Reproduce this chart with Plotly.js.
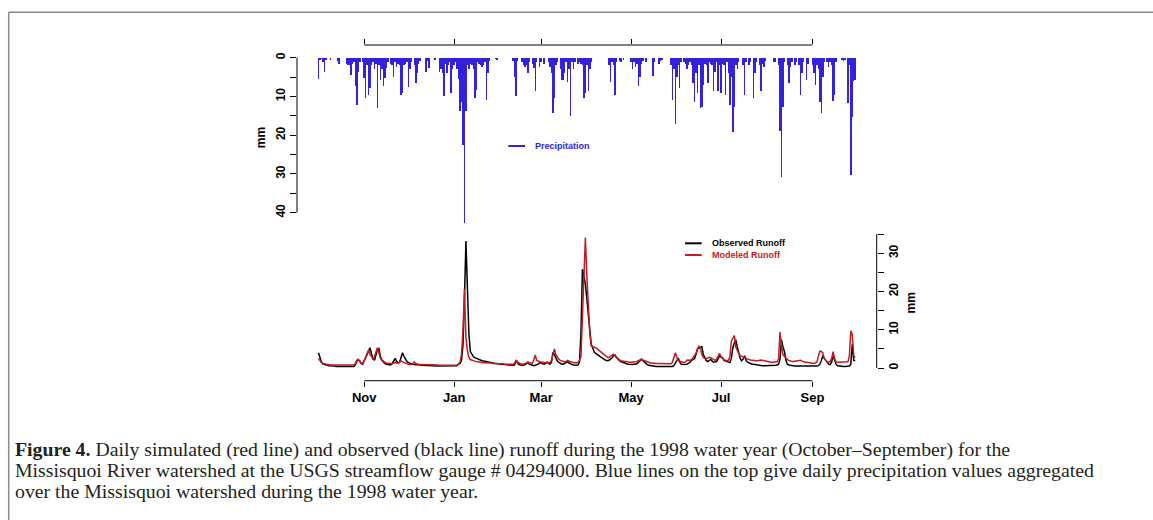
<!DOCTYPE html>
<html>
<head>
<meta charset="utf-8">
<script src="https://cdn.plot.ly/plotly-3.0.1.min.js"></script>
<style>
  html, body { margin: 0; padding: 0; background: #ffffff; }
  #chart { width: 1153px; height: 520px; }
</style>
</head>
<body>
<div id="chart"></div>
<script>
// ---------------- DATA ----------------
const startDate = '1997-10-01';   // first day of the 1998 water year
const monthTickDates  = ['1997-11-01', '1998-01-01', '1998-03-01', '1998-05-01', '1998-07-01', '1998-09-01'];
const monthTickLabels = ['Nov', 'Jan', 'Mar', 'May', 'Jul', 'Sep'];

const precipTickVals = [0, 5, 10, 15, 20, 25, 30, 35, 40];
const precipTickText = ['0', '', '10', '', '20', '', '30', '', '40'];
const runoffTickVals = [0, 5, 10, 15, 20, 25, 30, 35];
const runoffTickText = ['0', '', '10', '', '20', '', '30', ''];

// Daily precipitation (mm), Oct 1 1997 - Sep 30 1998
const precipitation = [
  5.5, 0.5, 0.3, 1.0, 3.8, 0.5, 0.2, 0.2, 0.6, 0.2,
  0.2, 0.2, 0.2, 0.8, 1.5, 0.2, 0.2, 0.2, 0.2, 1.5,
  2.0, 2.0, 4.5, 1.5, 1.0, 7.3, 12.3, 3.6, 1.0, 0.2,
  1.0, 5.3, 10.4, 2.0, 9.6, 7.8, 2.0, 1.0, 3.0, 1.5,
  13.0, 2.0, 5.7, 3.0, 7.3, 5.3, 2.7, 1.0, 0.2, 1.5,
  2.0, 4.9, 1.0, 2.3, 1.5, 2.0, 9.6, 9.0, 2.0, 1.5,
  1.0, 7.6, 3.0, 1.0, 0.2, 2.0, 6.6, 4.0, 1.5, 0.8,
  0.2, 0.2, 0.2, 3.6, 0.8, 2.7, 0.2, 0.2, 0.2, 0.6,
  0.2, 0.2, 3.8, 3.0, 4.0, 9.8, 1.5, 4.0, 2.0, 1.0,
  9.0, 3.0, 2.0, 1.0, 3.0, 5.6, 13.8, 11.3, 22.4, 42.7,
  13.8, 2.0, 3.0, 1.5, 1.9, 3.0, 10.3, 8.3, 1.0, 1.5,
  2.0, 2.5, 2.0, 1.0, 11.0, 4.0, 0.8, 0.2, 0.2, 0.2,
  0.4, 0.6, 0.2, 0.2, 0.2, 0.2, 0.2, 0.2, 0.2, 0.2,
  0.2, 0.2, 0.8, 4.9, 10.0, 0.8, 0.2, 0.2, 1.0, 2.0,
  2.5, 2.0, 4.0, 1.0, 0.2, 1.5, 2.7, 8.7, 1.0, 0.2,
  2.3, 1.0, 0.2, 1.5, 0.2, 0.2, 1.0, 2.5, 4.0, 14.3,
  10.4, 2.0, 1.0, 0.2, 3.0, 5.7, 5.7, 4.0, 1.0, 6.2,
  3.0, 15.1, 1.0, 3.0, 1.0, 0.2, 1.5, 1.2, 1.5, 2.0,
  10.4, 9.1, 2.0, 8.7, 3.0, 1.0, 0.2, 0.2, 0.2, 0.2,
  0.2, 0.2, 0.2, 0.2, 0.2, 0.2, 0.2, 2.0, 6.2, 1.0,
  2.0, 9.7, 1.0, 0.2, 0.8, 1.0, 0.2, 0.6, 0.2, 0.2,
  0.2, 0.2, 1.0, 3.0, 1.0, 2.3, 1.5, 7.4, 4.9, 1.5,
  0.8, 0.2, 1.0, 0.2, 0.2, 0.2, 0.2, 4.7, 1.0, 0.2,
  0.2, 1.5, 0.8, 0.6, 0.2, 0.2, 0.2, 0.2, 0.2, 2.0,
  10.9, 3.0, 17.1, 4.9, 2.0, 7.9, 1.0, 0.2, 1.0, 1.5,
  3.0, 1.9, 1.0, 2.0, 6.6, 11.5, 4.0, 9.1, 2.0, 13.0,
  12.6, 7.0, 1.5, 2.0, 6.6, 1.0, 1.5, 2.0, 8.7, 3.6,
  1.0, 8.7, 2.0, 9.1, 1.5, 2.0, 9.6, 1.0, 4.0, 12.1,
  5.0, 19.2, 12.6, 2.0, 3.0, 1.0, 0.2, 0.2, 2.0, 9.6,
  1.0, 0.2, 1.9, 1.0, 0.2, 10.4, 4.0, 1.0, 0.2, 2.0,
  8.5, 1.5, 2.3, 0.8, 0.2, 0.2, 0.2, 0.2, 0.2, 1.0,
  1.0, 0.2, 2.0, 18.8, 30.9, 12.6, 1.0, 0.2, 2.0, 6.6,
  2.3, 1.0, 0.2, 1.9, 1.0, 0.2, 2.0, 9.6, 4.0, 1.0,
  0.2, 5.7, 1.5, 0.2, 0.2, 2.0, 4.0, 7.0, 2.0, 3.0,
  11.3, 14.3, 4.9, 1.0, 0.2, 1.0, 2.3, 1.0, 2.0, 11.1,
  9.6, 1.0, 0.2, 0.2, 0.2, 0.5, 0.8, 0.5, 0.2, 11.8,
  2.0, 30.3, 15.2, 6.0, 5.8
];

// Daily observed runoff (mm)
const observedRunoff = [
  4.0, 2.6, 1.6, 1.1, 0.9, 0.8, 0.7, 0.6, 0.6, 0.5,
  0.5, 0.5, 0.4, 0.4, 0.4, 0.4, 0.4, 0.4, 0.3, 0.3,
  0.3, 0.3, 0.3, 0.3, 0.4, 0.8, 1.8, 2.1, 1.8, 1.2,
  1.0, 2.0, 2.6, 3.8, 4.5, 5.3, 3.6, 2.5, 2.0, 3.5,
  4.8, 5.1, 3.0, 2.0, 1.5, 1.2, 1.0, 0.9, 0.8, 0.8,
  1.2, 1.8, 2.5, 1.8, 1.3, 1.5, 3.0, 4.0, 3.0, 2.3,
  1.7, 1.4, 1.2, 1.1, 1.0, 0.9, 0.9, 0.8, 0.8, 0.8,
  0.7, 0.7, 0.7, 0.7, 0.6, 0.6, 0.6, 0.6, 0.6, 0.5,
  0.5, 0.5, 0.5, 0.5, 0.5, 0.5, 0.5, 0.5, 0.5, 0.5,
  0.5, 0.5, 0.5, 0.5, 0.6, 1.0, 1.2, 2.0, 6.0, 18.0,
  33.2, 21.0, 9.0, 4.3, 3.5, 3.0, 2.7, 2.5, 2.3, 2.2,
  2.0, 1.9, 1.8, 1.7, 1.6, 1.5, 1.5, 1.4, 1.3, 1.3,
  1.2, 1.2, 1.1, 1.1, 1.0, 1.0, 0.9, 0.9, 0.8, 0.8,
  0.8, 0.7, 0.7, 0.8, 2.0, 1.3, 0.9, 0.8, 0.7, 0.7,
  0.8, 1.0, 1.4, 1.0, 0.8, 0.7, 0.6, 0.7, 0.8, 1.0,
  1.4, 1.2, 1.0, 1.0, 1.2, 1.5, 1.2, 1.0, 1.5, 4.1,
  3.5, 2.4, 1.8, 1.5, 1.2, 1.0, 1.0, 1.2, 1.5, 1.7,
  1.3, 1.0, 0.9, 0.8, 0.7, 0.7, 0.8, 1.5, 9.0, 25.8,
  24.0, 22.0, 18.0, 14.7, 10.0, 6.2, 5.0, 4.2, 3.8, 3.5,
  3.3, 3.1, 2.8, 2.5, 2.2, 2.0, 1.9, 2.0, 2.3, 2.6,
  3.2, 3.4, 2.8, 2.3, 2.0, 1.7, 1.5, 1.3, 1.2, 1.1,
  1.0, 0.9, 0.9, 0.9, 1.0, 1.0, 1.1, 1.5, 2.0, 2.3,
  1.9, 1.5, 1.2, 0.9, 0.7, 0.6, 0.5, 0.5, 0.4, 0.4,
  0.4, 0.4, 0.3, 0.3, 0.3, 0.3, 0.3, 0.3, 0.3, 0.3,
  0.4, 0.6, 1.5, 1.9, 2.6, 1.5, 1.0, 0.9, 0.8, 0.9,
  1.0, 1.2, 1.5, 2.0, 2.3, 2.4, 3.5, 4.9, 5.2, 5.4,
  5.6, 3.5, 2.5, 1.9, 1.7, 2.0, 2.3, 1.8, 1.5, 1.6,
  1.7, 2.4, 3.2, 2.8, 2.7, 2.0, 1.9, 1.8, 1.5, 1.4,
  2.5, 5.3, 6.5, 7.4, 5.5, 4.0, 2.5, 1.9, 2.3, 3.2,
  2.0, 1.5, 1.3, 1.2, 1.0, 1.0, 0.9, 0.8, 0.7, 0.6,
  0.6, 0.6, 0.6, 0.6, 0.6, 0.6, 0.6, 0.6, 0.6, 0.6,
  0.7, 0.8, 1.0, 2.3, 7.4, 5.5, 4.4, 2.0, 1.0, 0.8,
  0.7, 0.6, 0.5, 0.5, 0.5, 0.5, 0.5, 0.5, 0.4, 0.4,
  0.4, 0.4, 0.4, 0.4, 0.4, 0.4, 0.4, 0.4, 0.5, 0.6,
  1.0, 1.9, 3.2, 2.5, 1.9, 1.3, 1.0, 0.9, 1.5, 3.2,
  2.0, 1.0, 0.6, 0.5, 0.4, 0.4, 0.4, 0.4, 0.4, 0.4,
  0.5, 1.0, 6.2, 2.0, 1.9
];

// Daily modeled runoff (mm)
const modeledRunoff = [
  2.5, 1.8, 1.4, 1.2, 1.1, 1.0, 0.9, 0.9, 0.8, 0.8,
  0.8, 0.8, 0.7, 0.7, 0.7, 0.7, 0.7, 0.7, 0.7, 0.7,
  0.7, 0.7, 0.7, 0.7, 0.8, 1.2, 2.0, 2.3, 1.8, 1.3,
  1.2, 1.8, 2.8, 3.4, 4.7, 3.5, 3.0, 2.2, 3.0, 4.3,
  5.3, 4.0, 2.5, 2.1, 1.7, 1.5, 1.3, 1.2, 1.1, 1.1,
  1.1, 1.2, 1.5, 1.3, 1.2, 1.5, 1.8, 1.6, 1.4, 1.2,
  1.1, 1.0, 0.9, 0.9, 1.2, 1.6, 1.2, 1.0, 0.9, 0.9,
  0.9, 0.9, 0.8, 0.8, 0.8, 0.8, 0.8, 0.8, 0.8, 0.8,
  0.8, 0.8, 0.7, 0.7, 0.7, 0.7, 0.7, 0.7, 0.7, 0.7,
  0.7, 0.7, 0.7, 0.8, 0.8, 1.0, 1.5, 3.5, 10.0, 20.7,
  8.0, 4.5, 2.8, 2.2, 2.0, 1.9, 1.8, 1.7, 1.6, 1.6,
  1.5, 1.5, 1.4, 1.4, 1.4, 1.3, 1.3, 1.3, 1.2, 1.2,
  1.2, 1.2, 1.1, 1.1, 1.1, 1.1, 1.0, 1.0, 1.0, 1.0,
  1.0, 1.0, 1.0, 1.2, 2.1, 1.5, 1.2, 1.1, 1.0, 1.0,
  1.1, 1.3, 1.6, 1.4, 1.2, 1.2, 2.0, 3.4, 2.0, 1.8,
  1.6, 1.5, 1.5, 1.4, 1.4, 1.5, 1.5, 1.4, 2.0, 4.0,
  5.0, 3.5, 2.8, 2.3, 2.0, 1.8, 1.7, 1.6, 1.7, 2.0,
  1.8, 1.6, 1.5, 1.4, 1.4, 1.3, 1.5, 2.0, 3.0, 12.0,
  24.0, 34.1, 24.0, 15.6, 9.0, 5.7, 5.6, 5.5, 5.3, 5.0,
  4.7, 4.3, 3.9, 3.6, 3.3, 3.0, 2.8, 2.7, 3.0, 3.4,
  3.6, 3.3, 2.8, 2.4, 2.1, 1.9, 1.8, 1.7, 1.6, 1.6,
  1.5, 1.5, 1.5, 1.5, 1.5, 1.6, 1.7, 1.9, 2.2, 2.3,
  2.1, 1.9, 1.7, 1.5, 1.4, 1.3, 1.3, 1.2, 1.2, 1.2,
  1.2, 1.2, 1.1, 1.1, 1.1, 1.1, 1.1, 1.1, 1.1, 1.1,
  1.5, 2.5, 4.0, 2.8, 2.0, 1.8, 1.6, 1.5, 1.5, 1.6,
  2.1, 2.0, 2.0, 2.2, 2.7, 3.0, 3.8, 5.0, 5.7, 5.2,
  3.5, 2.7, 2.5, 2.5, 2.6, 2.8, 2.7, 2.5, 2.2, 2.0,
  2.3, 3.0, 3.8, 3.0, 2.5, 2.2, 2.0, 1.9, 2.0, 3.0,
  7.0, 8.0, 8.5, 5.5, 4.4, 3.8, 3.2, 3.0, 2.9, 2.7,
  2.5, 2.3, 2.2, 2.1, 2.0, 2.0, 2.0, 1.9, 1.9, 2.0,
  2.1, 2.0, 1.9, 1.8, 1.7, 1.6, 1.5, 1.5, 1.5, 1.5,
  1.5, 1.6, 2.5, 9.4, 6.0, 3.5, 3.0, 2.5, 2.2, 2.0,
  1.8, 1.7, 1.7, 1.8, 1.8, 1.9, 2.1, 2.0, 1.8, 1.6,
  1.5, 1.5, 1.4, 1.4, 1.3, 1.2, 1.2, 1.3, 1.6, 3.0,
  4.4, 4.3, 4.0, 2.5, 1.9, 1.6, 1.5, 1.7, 2.5, 4.3,
  2.5, 1.6, 1.5, 1.5, 1.5, 1.5, 1.5, 1.5, 1.5, 1.6,
  3.0, 9.7, 8.7, 3.2, 2.7
];

// ---------------- HELPERS ----------------
const W = 1153, H = 520;
const DAY = 86400000;
const t0 = Date.parse(startDate + 'T00:00:00Z');
function dateStr(ms) { return new Date(ms).toISOString().replace('T', ' ').replace('Z', ''); }
const dates = precipitation.map((_, i) => dateStr(t0 + i * DAY).slice(0, 10));
const px = p => p / W;            // pixel -> paper x
const py = p => 1 - p / H;        // pixel -> paper y

// R-style 4% extension of the date range
const nDays = precipitation.length - 1;
const ext = nDays * 0.04;
const xRange = [dateStr(t0 - ext * DAY), dateStr(t0 + (nDays + ext) * DAY)];

const BLUE = '#3322dd';
const RED = '#c41a20';
const sans = 'Liberation Sans, Arial, Helvetica, sans-serif';
const serif = 'Liberation Serif, Times New Roman, serif';
const captionSize = 19.8;

const plotLeft = 297, plotRight = 876.7;

// ---------------- TRACES ----------------
const traces = [
  {
    type: 'bar', x: dates, y: precipitation, xaxis: 'x', yaxis: 'y',
    width: 1.0 * DAY, marker: { color: BLUE, line: { width: 0 } },
    name: 'Precipitation', showlegend: false, hoverinfo: 'x+y'
  },
  {
    type: 'scatter', mode: 'lines', x: dates, y: observedRunoff, xaxis: 'x2', yaxis: 'y2',
    line: { color: '#000000', width: 1.5 }, name: 'Observed Runoff', showlegend: false
  },
  {
    type: 'scatter', mode: 'lines', x: dates, y: modeledRunoff, xaxis: 'x2', yaxis: 'y2',
    line: { color: RED, width: 1.5 }, name: 'Modeled Runoff', showlegend: false
  }
];

const tickFont = { family: sans, size: 12, color: '#000', weight: 'bold' };

const layout = {
  width: W, height: H,
  margin: { l: 0, r: 0, t: 0, b: 0 },
  paper_bgcolor: '#ffffff', plot_bgcolor: 'rgba(0,0,0,0)',
  showlegend: false,
  bargap: 0,
  xaxis: {
    type: 'date', domain: [px(plotLeft), px(plotRight)], range: xRange, anchor: 'y', side: 'top',
    tickmode: 'array', tickvals: monthTickDates, ticktext: monthTickDates.map(() => ''),
    ticks: 'outside', ticklen: 5, tickwidth: 1, tickcolor: '#000',
    showgrid: false, zeroline: false, showline: false, fixedrange: true
  },
  yaxis: {
    domain: [py(230), py(45)], range: [44.46, -3.28], anchor: 'x',
    tickmode: 'array', tickvals: precipTickVals, ticktext: precipTickText,
    ticks: 'outside', ticklen: 6, tickwidth: 1, tickcolor: '#000', tickangle: -90,
    tickfont: tickFont, showgrid: false, zeroline: false, showline: false,
    title: { text: 'mm', font: { family: sans, size: 12, color: '#000', weight: 'bold' }, standoff: 6 },
    fixedrange: true
  },
  xaxis2: {
    type: 'date', domain: [px(plotLeft), px(plotRight)], range: xRange, anchor: 'y2', side: 'bottom',
    tickmode: 'array', tickvals: monthTickDates, ticktext: monthTickLabels,
    ticks: 'outside', ticklen: 5, tickwidth: 1, tickcolor: '#000',
    tickfont: { family: sans, size: 13, color: '#000', weight: 'bold' },
    showgrid: false, zeroline: false, showline: false, fixedrange: true
  },
  yaxis2: {
    domain: [py(380.7), py(225)], range: [-3.32, 37.37], anchor: 'x2', side: 'right',
    tickmode: 'array', tickvals: runoffTickVals, ticktext: runoffTickText,
    ticks: 'outside', ticklen: 6, tickwidth: 1, tickcolor: '#000', tickangle: -90,
    tickfont: tickFont, showgrid: false, zeroline: false, showline: false,
    title: { text: 'mm', font: { family: sans, size: 12, color: '#000', weight: 'bold' }, standoff: 6 },
    fixedrange: true
  },
  shapes: [
    // R-style axis lines spanning first to last tick
    { type: 'line', xref: 'x', yref: 'paper', x0: monthTickDates[0], x1: monthTickDates[monthTickDates.length - 1],
      y0: py(45), y1: py(45), line: { color: '#000', width: 1 } },
    { type: 'line', xref: 'x2', yref: 'paper', x0: monthTickDates[0], x1: monthTickDates[monthTickDates.length - 1],
      y0: py(380.7), y1: py(380.7), line: { color: '#000', width: 1 } },
    { type: 'line', xref: 'paper', yref: 'y', x0: px(plotLeft), x1: px(plotLeft),
      y0: precipTickVals[0], y1: precipTickVals[precipTickVals.length - 1], line: { color: '#000', width: 1 } },
    { type: 'line', xref: 'paper', yref: 'y2', x0: px(plotRight), x1: px(plotRight),
      y0: runoffTickVals[0], y1: runoffTickVals[runoffTickVals.length - 1], line: { color: '#000', width: 1 } },
    // legend samples
    { type: 'line', xref: 'paper', yref: 'paper', x0: px(508.3), x1: px(525), y0: py(146), y1: py(146),
      line: { color: BLUE, width: 2 } },
    { type: 'line', xref: 'paper', yref: 'paper', x0: px(685), x1: px(701.7), y0: py(243.3), y1: py(243.3),
      line: { color: '#000', width: 2 } },
    { type: 'line', xref: 'paper', yref: 'paper', x0: px(685), x1: px(701.7), y0: py(255), y1: py(255),
      line: { color: RED, width: 2 } },
    // page frame (top and left)
    { type: 'line', xref: 'paper', yref: 'paper', x0: px(8.7), x1: 1, y0: py(12.3), y1: py(12.3),
      line: { color: '#8a8a8a', width: 1.5 } },
    { type: 'line', xref: 'paper', yref: 'paper', x0: px(8.7), x1: px(8.7), y0: 0, y1: py(12.3),
      line: { color: '#8a8a8a', width: 1.5 } }
  ],
  annotations: [
    { xref: 'paper', yref: 'paper', x: px(533.3), y: py(146), xanchor: 'left', yanchor: 'middle',
      text: 'Precipitation', showarrow: false, font: { family: sans, size: 9, color: BLUE, weight: 'bold' } },
    { xref: 'paper', yref: 'paper', x: px(710), y: py(243.3), xanchor: 'left', yanchor: 'middle',
      text: 'Observed Runoff', showarrow: false, font: { family: sans, size: 9, color: '#000', weight: 'bold' } },
    { xref: 'paper', yref: 'paper', x: px(710), y: py(255), xanchor: 'left', yanchor: 'middle',
      text: 'Modeled Runoff', showarrow: false, font: { family: sans, size: 9, color: RED, weight: 'bold' } },
    { xref: 'paper', yref: 'paper', x: px(13), y: py(449), xanchor: 'left', yanchor: 'middle', align: 'left',
      text: '<b>Figure 4.</b> Daily simulated (red line) and observed (black line) runoff during the 1998 water year (October–September) for the',
      showarrow: false, font: { family: serif, size: captionSize, color: '#231f20' } },
    { xref: 'paper', yref: 'paper', x: px(13), y: py(470), xanchor: 'left', yanchor: 'middle', align: 'left',
      text: 'Missisquoi River watershed at the USGS streamflow gauge # 04294000. Blue lines on the top give daily precipitation values aggregated',
      showarrow: false, font: { family: serif, size: captionSize, color: '#231f20' } },
    { xref: 'paper', yref: 'paper', x: px(13), y: py(491), xanchor: 'left', yanchor: 'middle', align: 'left',
      text: 'over the Missisquoi watershed during the 1998 water year.',
      showarrow: false, font: { family: serif, size: captionSize, color: '#231f20' } }
  ]
};

Plotly.newPlot('chart', traces, layout, { displayModeBar: false, staticPlot: true });
</script>
</body>
</html>
